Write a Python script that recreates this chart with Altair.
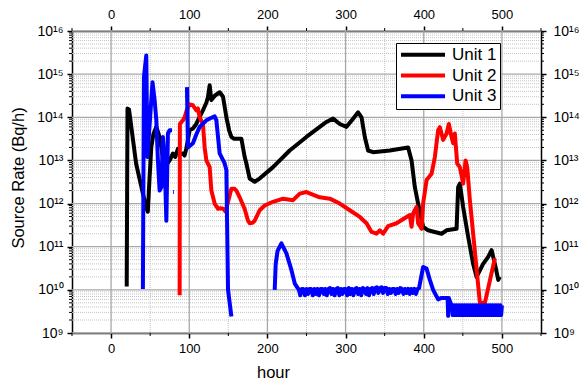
import altair as alt
import pandas as pd

FONT = "Liberation Sans"

# ---------------- data ----------------
u1_x = [20, 21, 23, 32, 40.7, 45, 47, 49.3, 51.4, 54, 57.9, 61, 64.3, 68.5, 71, 74.9, 79.1, 82, 85.5, 88,
        91.9, 94, 96.3, 100.5, 104.7, 109, 113, 117.5, 122, 124, 126.1, 128.3, 133, 139, 143.2, 147.5, 151,
        153.9, 157, 160.3, 166.7, 170.9, 173.1, 177.3, 183.7, 190, 207.2, 228.5, 249.9, 275.5, 284, 292.6,
        301.2, 309.6, 316, 320.4, 324.6, 328.8, 335.2, 356.6, 380, 384.4, 388.6, 392.8, 399.2, 405.6, 414,
        422.8, 429.2, 442, 444, 446.2, 450.4, 456.8, 463.2, 467.6, 476, 482.4, 486.8, 491, 495.3, 497.4]
u1_y = [1.2e10, 1.6e14, 1.5e14, 8.5e12, 1.7e12, 8e11, 6.5e11, 4.2e12, 2e13, 4e13, 6e13, 4e13, 2e13, 6e12, 8e12,
        1e13, 1.45e13, 1.2e13, 1.85e13, 1.4e13, 1.45e13, 1.3e13, 1.9e13, 5e13, 5.5e13, 7e13, 1e14, 1.45e14,
        2.2e14, 3e14, 5.5e14, 2.5e14, 3.2e14, 3.8e14, 3e14, 1e14, 5e13, 3.5e13, 3.2e13, 3.2e13, 3.2e13,
        1.2e13, 8.5e12, 3.8e12, 3.2e12, 3.8e12, 7e12, 1.7e13, 3.5e13, 7.8e13, 9.3e13, 7e13, 6e13, 9.3e13,
        1.3e14, 1e14, 3.5e13, 1.7e13, 1.55e13, 1.7e13, 2e13, 1e13, 2.4e12, 1e12, 2.9e11, 2.4e11, 2.2e11,
        2e11, 2.4e11, 2.6e11, 2.4e12, 2.9e12, 8.3e11, 1.7e11, 4e10, 2e10, 4e10, 5.8e10, 8.3e10, 4e10,
        1.7e10, 2e10]

u2_x = [87.7, 88, 91.9, 94.1, 97, 100.5, 104.7, 109.1, 111.1, 113.3, 117.5, 119.7, 121.9, 126.1, 128.3, 132.5,
        136.7, 140, 143.2, 146.6, 149.6, 153.9, 158, 160.3, 164.5, 170.9, 175.2, 177.3, 181, 183.7, 190.1,
        196.5, 207.2, 220, 232.8, 241.4, 249.9, 266.9, 279.8, 292.6, 305.4, 318.2, 326.8, 333.2, 339.6,
        343.8, 348, 354.4, 365.2, 378, 382.2, 384.4, 386.4, 390.8, 392.8, 397.2, 399.2, 403.6, 410, 414.2,
        418.4, 420.6, 424.8, 429.2, 432.1, 435.5, 437.7, 439.8, 442.8, 446.2, 450.4, 453.5, 455.6, 459,
        463.2, 471.8, 478.2, 491]
u2_y = [7.5e9, 7e13, 8.5e13, 1e14, 1.5e14, 2e14, 1.9e14, 1.45e14, 1.6e14, 1e14, 7e13, 2e13, 1e13, 7e12, 2e12,
        1e12, 7.6e11, 7.8e11, 7.6e11, 6.5e11, 1.1e12, 2.2e12, 2.2e12, 2e12, 1.4e12, 7.5e11, 4e11, 3.5e11,
        3.6e11, 4e11, 7e11, 9e11, 1.1e12, 1.3e12, 1.2e12, 1.7e12, 1.85e12, 1.4e12, 1.3e12, 1e12, 7e11,
        4.9e11, 3.5e11, 2.2e11, 2e11, 2.4e11, 2e11, 3e11, 3.5e11, 4.9e11, 5.4e11, 2.9e11, 5.9e11, 8.3e11,
        3.5e11, 2.6e11, 1e12, 3.5e12, 4.9e12, 1.2e13, 5e13, 5.9e13, 3e13, 4.2e13, 7e13, 3.5e13, 2.5e13,
        4.2e13, 8.5e12, 7e12, 2.9e12, 1e13, 7e12, 1.2e12, 2e11, 5e9, 5e9, 5.4e10]

# Unit 3 comes in separate pieces (gaps in the record)
u3a_x = [40.7, 42, 45, 46.5, 53, 55.7, 57.9, 59.9, 62.1, 64.3, 66.3, 68.5, 70.7, 72.7, 74.9, 77.9]
u3a_y = [1.05e10, 8.5e14, 2.7e15, 1.2e13, 6.5e14, 2.5e14, 8.5e13, 1e13, 2e12, 2.4e12, 3.5e13, 1e13, 4e11,
         4.2e13, 5e13, 5e13]
u3b_x = [79.5, 80.5]
u3b_y = [1.85e12, 1.85e12]
u3c_x = [97.1, 98.3, 104.7, 109, 113.3, 121.9, 127, 132.5, 134.7, 138.9, 145.3, 147.5, 149.6, 153.9]
u3c_y = [5e14, 2e13, 2.5e13, 4e13, 6e13, 8.5e13, 9.5e13, 1.05e14, 8.5e13, 1.45e13, 8.5e12, 6e12, 1e10, 2.4e9]
u3d_x = [209.3, 210.6, 213, 217.9, 224.3, 230.7, 235, 239.2]
u3d_y = [1e10, 4e10, 8e10, 1.2e11, 7e10, 2.9e10, 1.4e10, 1.07e10]
u3e_x = list(range(240, 396, 2))
u3e_y = [1.05e10, 7.5e9, 1.05e10, 1.05e10, 7.5e9, 1.05e10, 8e9, 1.05e10, 1.05e10, 7.5e9,
         1.05e10, 8e9, 1.05e10, 7.5e9, 1.05e10, 1.05e10, 8e9, 1.05e10, 7.5e9, 1.05e10,
         1.1e10, 8e9, 1.05e10, 7.5e9, 1.05e10, 1.1e10, 7.5e9, 1.05e10, 8e9, 1.05e10,
         1.05e10, 7.5e9, 1.1e10, 8e9, 1.05e10, 7.5e9, 1.05e10, 1.1e10, 8e9, 1.05e10,
         7.5e9, 1.1e10, 1.05e10, 8e9, 1.1e10, 7.5e9, 1.05e10, 1.1e10, 8e9, 1.1e10,
         1.15e10, 8.5e9, 1.1e10, 1.15e10, 8.5e9, 1.1e10, 1.1e10, 8e9, 1.05e10, 8.5e9,
         1.05e10, 1.05e10, 8e9, 1.05e10, 8.5e9, 1.1e10, 1.05e10, 8e9, 1.05e10, 8.5e9,
         1.05e10, 8e9, 1.05e10, 8.5e9, 1.05e10, 8e9, 1.05e10, 1.1e10]
u3f_x = [396, 399.2, 403.6, 407.8, 412, 418.4, 422.8, 428, 430.5, 431.2, 432, 435]
u3f_y = [1.7e10, 3.4e10, 3.1e10, 1.7e10, 1e10, 6e9, 6.5e9, 6.5e9, 6.5e9, 2.5e9, 6.5e9, 4.6e9]
u3g_x = list(range(436, 501, 1))
u3g_y = [4.4e9, 2.6e9, 4.4e9, 2.6e9, 4.4e9, 2.6e9, 4.4e9, 2.6e9, 4.4e9, 2.6e9,
         4.4e9, 2.6e9, 4.4e9, 2.6e9, 4.4e9, 2.6e9, 4.4e9, 2.6e9, 4.4e9, 2.6e9,
         4.4e9, 2.6e9, 4.4e9, 2.6e9, 4.4e9, 2.6e9, 4.4e9, 2.6e9, 4.4e9, 2.6e9,
         4.4e9, 2.6e9, 4.4e9, 2.6e9, 4.4e9, 2.6e9, 4.4e9, 2.6e9, 4.4e9, 2.6e9,
         4.4e9, 2.6e9, 4.4e9, 2.6e9, 4.4e9, 2.6e9, 4.4e9, 2.6e9, 4.4e9, 2.6e9,
         4.4e9, 2.6e9, 4.4e9, 2.6e9, 4.4e9, 2.6e9, 4.4e9, 2.6e9, 4.4e9, 2.6e9,
         4.4e9, 2.6e9, 4.4e9, 2.6e9, 4.4e9]

units = ["Unit 1", "Unit 2", "Unit 3"]
colors = ["#000000", "#ff0000", "#0000ff"]

x_major = [0, 100, 200, 300, 400, 500]
x_minor = [-50, 50, 150, 250, 350, 450, 550]
y_major = [1e9, 1e10, 1e11, 1e12, 1e13, 1e14, 1e15, 1e16]
y_minor = [k * 10.0 ** e for e in range(9, 16) for k in range(2, 10)]

# ---------------- build table ----------------
rows = []
pieces = [("Unit 1", "a", u1_x, u1_y), ("Unit 2", "a", u2_x, u2_y),
          ("Unit 3", "a", u3a_x, u3a_y), ("Unit 3", "b", u3b_x, u3b_y),
          ("Unit 3", "c", u3c_x, u3c_y), ("Unit 3", "d", u3d_x + u3e_x + u3f_x + u3g_x,
                                          u3d_y + u3e_y + u3f_y + u3g_y)]
for unit, seg, xs, ys in pieces:
    for i, (xv, yv) in enumerate(zip(xs, ys)):
        rows.append({"unit": unit, "seg": unit + seg, "x": xv, "y": yv, "i": i})
df = pd.DataFrame(rows)

W, H = 469, 302
xscale = alt.Scale(domain=[-50, 550], nice=False, zero=False)
yscale = alt.Scale(type="log", domain=[1e9, 1e16], nice=False)

sup = {9: "⁹", 10: "¹⁰", 11: "¹¹", 12: "¹²", 13: "¹³", 14: "¹⁴", 15: "¹⁵", 16: "¹⁶"}
lab = "''"
for k in sorted(sup, reverse=True):
    lab = f"round(log(datum.value)/LN10) == {k} ? '10{sup[k]}' : ({lab})"

axis_common = dict(domainColor="black", domainWidth=1.5, tickColor="black", tickWidth=1.5, tickSize=5,
                   labelFont=FONT, labelColor="black", grid=False, titleFont=FONT, titleColor="black",
                   titleFontWeight="normal", labelFlush=False, labelOverlap=False)

x_axis_b = alt.Axis(orient="bottom", values=x_major, labelFontSize=13, labelPadding=4,
                    title="hour", titleFontSize=16.5, titleX=201, titleY=44,
                    titleBaseline="alphabetic", titleAlign="center", **axis_common)
y_axis_l = alt.Axis(orient="left", values=y_major, labelExpr=lab, labelFontSize=14, labelPadding=4,
                    title="Source Rate (Bq/h)", titleFontSize=16.5, titleX=-49, titleY=146.5,
                    titleAngle=-90, titleBaseline="alphabetic", titleAlign="center", **axis_common)


def X(field):
    return alt.X(field, scale=xscale, axis=x_axis_b)


def Y(field):
    return alt.Y(field, scale=yscale, axis=y_axis_l)


ymaj_df = pd.DataFrame({"v": y_major})
ymin_df = pd.DataFrame({"v": y_minor})
xmaj_df = pd.DataFrame({"v": x_major})
xmin_df = pd.DataFrame({"v": x_minor})
xmin_in = pd.DataFrame({"v": x_minor[1:-1]})

grid_ymin = alt.Chart(ymin_df).mark_rule(color="#c4c4c4", strokeWidth=1, strokeDash=[1, 1]).encode(
    y=Y("v:Q"))
grid_xmin = alt.Chart(xmin_in).mark_rule(color="#c4c4c4", strokeWidth=1, strokeDash=[1, 1]).encode(
    x=X("v:Q"))
grid_ymaj = alt.Chart(ymaj_df).mark_rule(color="#a8a8a8", strokeWidth=1.3).encode(y=Y("v:Q"))
grid_xmaj = alt.Chart(xmaj_df).mark_rule(color="#a8a8a8", strokeWidth=1.3).encode(x=X("v:Q"))

tick_l = alt.Chart(ymin_df).mark_rule(color="black", strokeWidth=1).encode(
    y=Y("v:Q"), x=alt.value(-3), x2=alt.value(0))
tick_r = alt.Chart(ymin_df).mark_rule(color="black", strokeWidth=1).encode(
    y=Y("v:Q"), x=alt.value(W), x2=alt.value(W + 3))
tick_b = alt.Chart(xmin_df).mark_rule(color="black", strokeWidth=1).encode(
    x=X("v:Q"), y=alt.value(H), y2=alt.value(H + 3))
tick_t = alt.Chart(xmin_df).mark_rule(color="black", strokeWidth=1).encode(
    x=X("v:Q"), y=alt.value(-3), y2=alt.value(0))

lines = alt.Chart(df).mark_line(strokeWidth=4, strokeJoin="round", clip=True).encode(
    x=X("x:Q"),
    y=Y("y:Q"),
    color=alt.Color("unit:N", scale=alt.Scale(domain=units, range=colors),
                    legend=alt.Legend(title=None, orient="none", legendX=324, legendY=12,
                                      symbolType="stroke", symbolSize=1936, symbolStrokeWidth=4,
                                      labelFont=FONT, labelFontSize=17, labelColor="black",
                                      labelOffset=5, clipHeight=17.5, rowPadding=1.8, padding=3,
                                      strokeColor="black", fillColor="white", cornerRadius=0)),
    detail="seg:N",
    order="i:Q",
)

main = alt.layer(grid_ymin, grid_xmin, grid_ymaj, grid_xmaj, tick_l, tick_r, tick_b, tick_t, lines)

mirror = alt.Chart(pd.DataFrame({"x": [0], "y": [1e12]})).mark_point(opacity=0).encode(
    x=alt.X("x:Q", scale=xscale,
            axis=alt.Axis(orient="top", values=x_major, labelFontSize=13, labelPadding=5, title=None,
                          **axis_common)),
    y=alt.Y("y:Q", scale=yscale,
            axis=alt.Axis(orient="right", values=y_major, labelExpr=lab, labelFontSize=14, labelPadding=7,
                          title=None, **axis_common)),
)

chart = alt.layer(main, mirror).resolve_scale(x="independent", y="independent").properties(
    width=W, height=H,
    padding={"left": 72, "top": 31, "right": 44, "bottom": 50},
    autosize=alt.AutoSizeParams(type="none"),
    background="white",
).configure_view(stroke=None)

chart.save("out.html", embed_options={"renderer": "svg", "actions": False})
